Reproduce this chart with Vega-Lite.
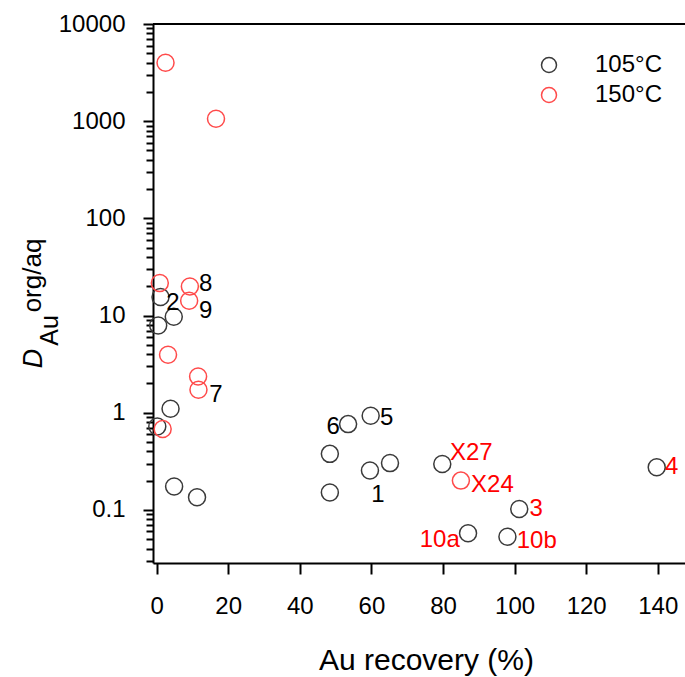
{
  "$schema": "https://vega.github.io/schema/vega-lite/v6.json",
  "autosize": {"type": "none"},
  "width": 532,
  "height": 539,
  "padding": {"left": 153, "top": 24, "right": 0, "bottom": 114},
  "background": "white",
  "config": {
    "view": {"stroke": null},
    "font": "Liberation Sans",
    "axis": {"grid": false, "domainColor": "#000", "domainWidth": 2, "tickColor": "#000", "tickWidth": 2, "labelColor": "#000", "titleColor": "#000", "labelFont": "Liberation Sans", "titleFont": "Liberation Sans", "titleFontWeight": "normal", "labelFlush": false, "labelOverlap": false, "labelBound": false}
  },
  "datasets": {
    "points": [
      {"recovery": 1.1, "D": 15.5, "temp": "105°C"},
      {"recovery": 4.8, "D": 9.7, "temp": "105°C"},
      {"recovery": 0.45, "D": 7.9, "temp": "105°C"},
      {"recovery": 3.9, "D": 1.10, "temp": "105°C"},
      {"recovery": 4.9, "D": 0.174, "temp": "105°C"},
      {"recovery": 11.3, "D": 0.135, "temp": "105°C"},
      {"recovery": 0.2, "D": 0.72, "temp": "105°C"},
      {"recovery": 48.4, "D": 0.377, "temp": "105°C"},
      {"recovery": 53.5, "D": 0.763, "temp": "105°C"},
      {"recovery": 59.8, "D": 0.93, "temp": "105°C"},
      {"recovery": 48.4, "D": 0.151, "temp": "105°C"},
      {"recovery": 59.6, "D": 0.254, "temp": "105°C"},
      {"recovery": 65.2, "D": 0.303, "temp": "105°C"},
      {"recovery": 79.8, "D": 0.296, "temp": "105°C"},
      {"recovery": 101.3, "D": 0.102, "temp": "105°C"},
      {"recovery": 87.0, "D": 0.0575, "temp": "105°C"},
      {"recovery": 98.0, "D": 0.053, "temp": "105°C"},
      {"recovery": 139.7, "D": 0.275, "temp": "105°C"},
      {"recovery": 2.5, "D": 4000, "temp": "150°C"},
      {"recovery": 16.6, "D": 1060, "temp": "150°C"},
      {"recovery": 0.9, "D": 21.6, "temp": "150°C"},
      {"recovery": 9.3, "D": 19.9, "temp": "150°C"},
      {"recovery": 9.1, "D": 14.2, "temp": "150°C"},
      {"recovery": 3.2, "D": 3.95, "temp": "150°C"},
      {"recovery": 11.6, "D": 2.36, "temp": "150°C"},
      {"recovery": 11.7, "D": 1.72, "temp": "150°C"},
      {"recovery": 1.7, "D": 0.68, "temp": "150°C"},
      {"recovery": 85.0, "D": 0.200, "temp": "150°C"}
    ],
    "labels": [
      {"text": "1", "recovery": 61.8, "D": 0.1426, "group": "A"},
      {"text": "2", "recovery": 4.55, "D": 13.5, "group": "A"},
      {"text": "5", "recovery": 64.3, "D": 0.885, "group": "A"},
      {"text": "6", "recovery": 49.3, "D": 0.716, "group": "A"},
      {"text": "7", "recovery": 16.6, "D": 1.53, "group": "A"},
      {"text": "8", "recovery": 13.7, "D": 21.2, "group": "A"},
      {"text": "9", "recovery": 13.7, "D": 11.2, "group": "A"},
      {"text": "X27", "recovery": 87.9, "D": 0.386, "group": "B"},
      {"text": "X24", "recovery": 93.8, "D": 0.181, "group": "B"},
      {"text": "3", "recovery": 106.0, "D": 0.102, "group": "B"},
      {"text": "10a", "recovery": 79.1, "D": 0.0491, "group": "B"},
      {"text": "10b", "recovery": 106.2, "D": 0.048, "group": "B"},
      {"text": "4", "recovery": 143.9, "D": 0.277, "group": "B"}
    ],
    "top": [{"D": 10000}]
  },
  "layer": [
    {
      "data": {"name": "points"},
      "mark": {"type": "point", "shape": "circle", "filled": false, "size": 289, "strokeWidth": 1.5, "opacity": 1},
      "encoding": {
        "x": {
          "field": "recovery", "type": "quantitative",
          "scale": {"domain": [-1, 147.6], "nice": false, "zero": false},
          "axis": {
            "title": "Au recovery (%)",
            "values": [0, 10, 20, 30, 40, 50, 60, 70, 80, 90, 100, 110, 120, 130, 140],
            "labelExpr": "datum.value % 20 == 0 ? format(datum.value, 'd') : ''",
            "tickSize": {"condition": {"test": "datum.value % 20 == 0", "value": 11}, "value": 8},
            "labelFontSize": 24,
            "labelPadding": 20,
            "titleFontSize": 30,
            "titleX": 273,
            "titleY": 106,
            "titleBaseline": "alphabetic",
            "titleAlign": "center"
          }
        },
        "y": {
          "field": "D", "type": "quantitative",
          "scale": {"type": "log", "domain": [0.0284, 10000], "nice": false},
          "axis": {
            "orient": "left",
            "title": "D",
            "titleFontStyle": "italic",
            "titleFontSize": 27,
            "titleAngle": 270,
            "titleAlign": "center",
            "titleBaseline": "middle",
            "titleX": -120,
            "titleY": 334,
            "values": [0.03, 0.04, 0.05, 0.06, 0.07, 0.08, 0.09, 0.1, 0.2, 0.3, 0.4, 0.5, 0.6, 0.7, 0.8, 0.9, 1, 2, 3, 4, 5, 6, 7, 8, 9, 10, 20, 30, 40, 50, 60, 70, 80, 90, 100, 200, 300, 400, 500, 600, 700, 800, 900, 1000, 2000, 3000, 4000, 5000, 6000, 7000, 8000, 9000, 10000],
            "labelExpr": "abs(log(datum.value)/LN10 - round(log(datum.value)/LN10)) < 0.001 ? (datum.value < 1 ? format(datum.value, '.1f') : format(datum.value, 'd')) : ''",
            "tickSize": {"condition": {"test": "abs(log(datum.value)/LN10 - round(log(datum.value)/LN10)) < 0.001", "value": 10}, "value": 7},
            "labelFontSize": 24,
            "labelPadding": 18
          }
        },
        "stroke": {
          "field": "temp", "type": "nominal",
          "scale": {"domain": ["105°C", "150°C"], "range": ["#3a3a3a", "#ff4a4a"]},
          "legend": {
            "title": null,
            "orient": "none",
            "legendX": 384,
            "legendY": 29,
            "padding": 0,
            "symbolType": "circle",
            "symbolSize": 225,
            "symbolStrokeWidth": 1.5,
            "symbolFillColor": "transparent",
            "labelFontSize": 24,
            "labelFont": "Liberation Sans",
            "labelColor": "#000",
            "labelOffset": 34,
            "rowPadding": 6
          }
        }
      }
    },
    {
      "data": {"name": "labels"},
      "mark": {"type": "text", "fontSize": 24, "align": "center", "baseline": "middle", "font": "Liberation Sans"},
      "encoding": {
        "x": {"field": "recovery", "type": "quantitative"},
        "y": {
          "field": "D", "type": "quantitative",
          "axis": {"orient": "left", "domain": false, "ticks": false, "labels": false, "title": "Au", "titleFontSize": 25, "titleFontStyle": "normal", "titleAngle": 270, "titleAlign": "center", "titleBaseline": "middle", "titleX": -104, "titleY": 306}
        },
        "text": {"field": "text"},
        "color": {"field": "group", "type": "nominal", "scale": {"domain": ["A", "B"], "range": ["#000000", "#ff0000"]}, "legend": null}
      }
    },
    {
      "data": {"name": "top"},
      "mark": {"type": "rule", "strokeWidth": 2, "color": "#000"},
      "encoding": {
        "y": {
          "field": "D", "type": "quantitative",
          "axis": {"orient": "left", "domain": false, "ticks": false, "labels": false, "title": "org/aq", "titleFontSize": 26, "titleAngle": 270, "titleAlign": "center", "titleBaseline": "middle", "titleX": -121, "titleY": 251}
        }
      }
    }
  ],
  "resolve": {"axis": {"y": "independent"}}
}
